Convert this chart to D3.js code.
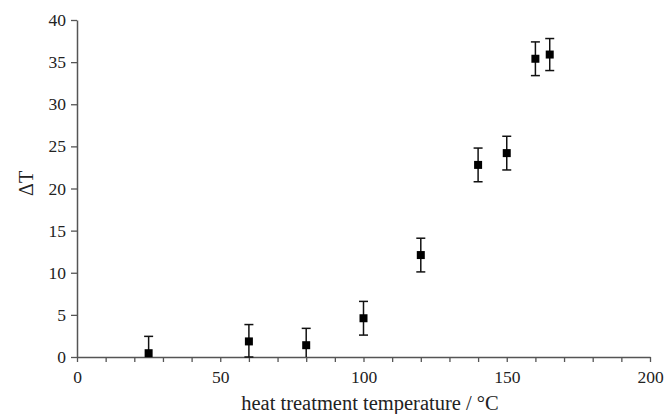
<!DOCTYPE html>
<html><head><meta charset="utf-8">
<script src="https://cdn.jsdelivr.net/npm/d3@7"></script>
<style>body{margin:0;background:#fff;} svg{display:block;}</style>
</head><body>
<svg id="c" width="669" height="414"></svg>
<script>
const temps = [25, 60, 80, 100, 120, 140, 150, 160, 165];
const deltaT = [0.45, 1.85, 1.4, 4.6, 12.1, 22.8, 24.2, 35.4, 35.9];
const errors = [2.0, 2.0, 2.0, 2.0, 2.0, 2.0, 2.0, 2.0, 1.9];
const xTicks = [0, 50, 100, 150, 200];
const yTicks = [0, 5, 10, 15, 20, 25, 30, 35, 40];

const svg = d3.select("#c");
const font = "'Liberation Serif', 'Times New Roman', serif";
const x = d3.scaleLinear().domain([0, 200]).range([77, 650]);
const y = d3.scaleLinear().domain([0, 40]).range([357, 20]);
const axisColor = "#555";

// x axis
const xa = svg.append("g").attr("transform", `translate(0,${y(0)})`)
  .call(d3.axisBottom(x).tickValues(d3.range(0, 201, 10)).tickSize(5).tickSizeOuter(0)
    .tickFormat(d => xTicks.includes(d) ? d : ""));
xa.select(".domain").attr("stroke", axisColor).attr("stroke-width", 1.5);
xa.selectAll(".tick line").attr("stroke", axisColor).attr("stroke-width", 1.3);
xa.selectAll("text").attr("font-family", font).attr("font-size", 17.5).attr("fill", "#222").attr("y", 10).attr("dy", "0.9em");

// y axis
const ya = svg.append("g").attr("transform", `translate(${x(0)},0)`)
  .call(d3.axisLeft(y).tickValues(yTicks).tickSize(6).tickSizeOuter(0));
ya.select(".domain").attr("stroke", axisColor).attr("stroke-width", 1.5);
ya.selectAll(".tick line").attr("stroke", axisColor).attr("stroke-width", 1.3);
ya.selectAll("text").attr("font-family", font).attr("font-size", 17.5).attr("fill", "#222").attr("x", -11);

// titles
svg.append("text").attr("x", 370).attr("y", 410)
  .attr("text-anchor", "middle").attr("font-family", font).attr("font-size", 20.5).attr("fill", "#222")
  .text("heat treatment temperature / °C");
svg.append("text").attr("transform", `translate(33,${y(20.6)}) rotate(-90)`)
  .attr("text-anchor", "middle").attr("font-family", font).attr("font-size", 20).attr("fill", "#222")
  .text("ΔT");

// data
const data = temps.map((t, i) => ({t, v: deltaT[i], e: errors[i]}));
const g = svg.append("g");
const cap = 4.5;
data.forEach(d => {
  const lo = Math.max(d.v - d.e, 0);
  const hi = d.v + d.e;
  g.append("line").attr("x1", x(d.t)).attr("x2", x(d.t)).attr("y1", y(lo)).attr("y2", y(hi))
    .attr("stroke", "#111").attr("stroke-width", 1.5);
  g.append("line").attr("x1", x(d.t) - cap).attr("x2", x(d.t) + cap).attr("y1", y(hi)).attr("y2", y(hi))
    .attr("stroke", "#111").attr("stroke-width", 1.5);
  if (d.v - d.e > -0.5) {
    g.append("line").attr("x1", x(d.t) - cap).attr("x2", x(d.t) + cap).attr("y1", y(lo)).attr("y2", y(lo))
      .attr("stroke", "#111").attr("stroke-width", 1.5);
  }
});
const s = 8;
g.selectAll("rect.pt").data(data).join("rect").attr("class", "pt")
  .attr("x", d => x(d.t) - s / 2).attr("y", d => y(d.v) - s / 2)
  .attr("width", s).attr("height", s).attr("fill", "#000");
</script>
</body></html>
